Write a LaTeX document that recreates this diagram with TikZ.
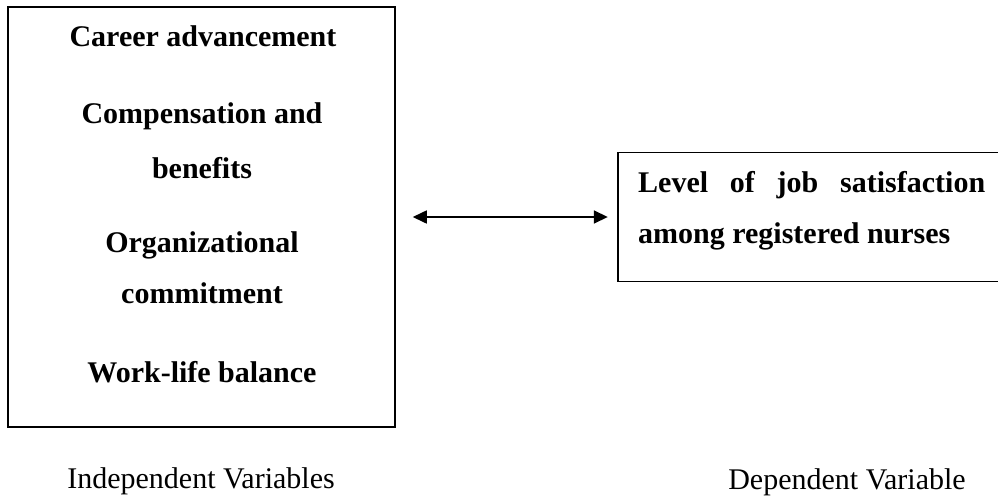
\documentclass[tikz,border=0pt]{standalone}
\usepackage{fontspec}
\setmainfont{Liberation Serif}
\usetikzlibrary{arrows.meta}
\tikzset{
  frame/.style={draw=none, rectangle, inner sep=0pt},
  boxline/.style={draw=black, line width=1.5pt},
  ivtext/.style={anchor=base, inner sep=0pt, font=\fontsize{30}{36}\selectfont\bfseries},
  dvtext/.style={anchor=base west, inner sep=0pt, font=\fontsize{30}{36}\selectfont\bfseries},
  captext/.style={anchor=base, inner sep=0pt, font=\fontsize{30}{36}\selectfont},
  link/.style={line width=1.6pt, {Triangle[length=14pt,width=13pt]}-{Triangle[length=14pt,width=13pt]}}
}
\begin{document}
\begin{tikzpicture}[x=1pt,y=-1pt]
\useasboundingbox (0,0) rectangle (998,495);
% left box
\node[frame, boxline, minimum width=387pt, minimum height=420pt] (ivbox) at (201.5,217) {};
\node[ivtext] (t1) at (203,47) {Career advancement};
\node[ivtext] (t2) at (202,123) {Compensation and};
\node[ivtext] (t3) at (202,178) {benefits};
\node[ivtext] (t4) at (202,252) {Organizational};
\node[ivtext] (t5) at (202,303) {commitment};
\node[ivtext] (t6) at (202,382) {Work-life balance};
% right box (open at the right edge)
\node[frame, minimum width=381pt, minimum height=129pt] (dvbox) at (808.5,217) {};
\draw[boxline] (dvbox.north east) -- (dvbox.north west) -- (dvbox.south west) -- (dvbox.south east);
\node[dvtext] (d1) at (638,192) {\hbox to 347pt{Level\hfill of\hfill job\hfill satisfaction}};
\node[dvtext] (d2) at (638,243) {among registered nurses};
% connector
\draw[link, shorten <=17pt, shorten >=10pt] (ivbox) -- (dvbox);
% captions
\node[captext] (c1) at (201,488) {Independent Variables};
\node[captext] (c2) at (847,489) {Dependent Variable};
\end{tikzpicture}
\end{document}
